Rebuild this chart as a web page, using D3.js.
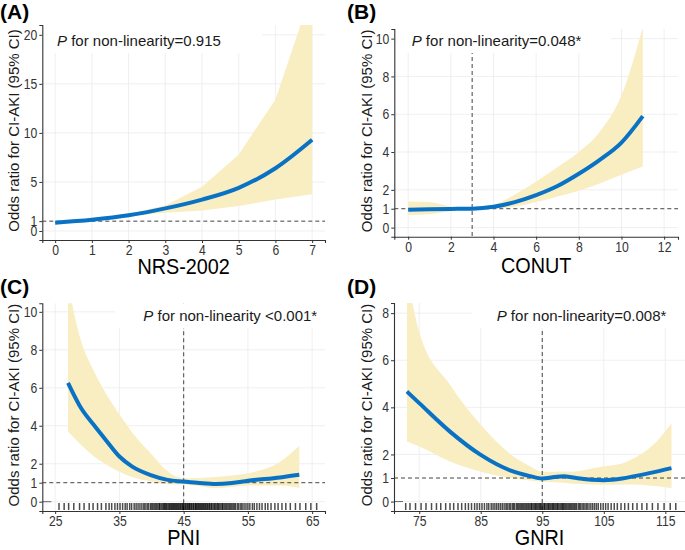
<!DOCTYPE html>
<html><head><meta charset="utf-8">
<script src="https://cdn.jsdelivr.net/npm/d3@7"></script>
<style>body{margin:0;background:#fff}svg{display:block;font-family:"Liberation Sans",Arial,sans-serif}</style>
</head><body><svg id="c" width="685" height="550"></svg>
<script>
// ---- Panel A: NRS-2002 ----
const nrsX  = [0, 1, 2, 3, 4, 5, 6, 7];
const nrsOR = [0.85, 1.15, 1.6, 2.3, 3.2, 4.4, 6.4, 9.3];
const nrsLo = [0.8, 1.1, 1.5, 1.85, 2.1, 2.55, 3.2, 3.75];
const nrsHi = [0.9, 1.2, 1.75, 2.6, 4.5, 7.8, 13.4, 24.5];
const nrsXTicks = [0, 1, 2, 3, 4, 5, 6, 7];
const nrsYTicks = [0, 1, 5, 10, 15, 20];

// ---- Panel B: CONUT ----
const conutX  = [0, 1, 2, 3, 4, 5, 6, 7, 8, 9, 10, 11];
const conutOR = [0.95, 0.97, 0.99, 1.0, 1.1, 1.35, 1.72, 2.2, 2.85, 3.6, 4.5, 5.9];
const conutLo = [0.67, 0.71, 0.88, 1.0, 1.0, 1.1, 1.35, 1.65, 1.95, 2.35, 2.8, 3.23];
const conutHi = [1.38, 1.35, 1.1, 1.0, 1.2, 1.75, 2.44, 3.2, 4.0, 5.1, 7.0, 10.6];
const conutXTicks = [0, 2, 4, 6, 8, 10, 12];
const conutYTicks = [0, 1, 2, 4, 6, 8, 10];

// ---- Panel C: PNI ----
const pniX  = [27, 29, 31, 33, 35, 37, 40, 42.5, 45, 47.5, 50, 52.5, 55, 60, 63];
const pniOR = [6.26, 4.95, 4.05, 3.2, 2.38, 1.85, 1.39, 1.15, 1.06, 0.98, 0.93, 0.98, 1.1, 1.28, 1.42];
const pniLo = [3.7, 3.0, 2.4, 1.95, 1.58, 1.3, 1.06, 0.92, 0.9, 0.82, 0.72, 0.78, 0.85, 0.85, 0.72];
const pniHi = [11.5, 8.5, 6.9, 5.65, 4.6, 3.65, 2.5, 1.6, 1.24, 1.25, 1.3, 1.38, 1.5, 2.1, 2.95];
const pniXTicks = [25, 35, 45, 55, 65];
const pniYTicks = [0, 1, 2, 4, 6, 8, 10];
const pniRug = [25.6,26.4,27.1,27.9,28.8,29.5,30.3,30.9,31.6,32.2,32.9,33.4,33.8,34.3,34.7,35.1,35.5,35.9,36.2,36.6,36.9,37.3,37.6,37.9,38.2,38.5,38.8,39.0,39.3,39.5,39.8,40.0,40.2,40.4,40.6,40.8,41.0,41.2,41.3,41.5,41.7,41.9,42.0,42.2,42.3,42.5,42.7,42.8,43.0,43.1,43.3,43.4,43.6,43.7,43.9,44.0,44.2,44.3,44.5,44.6,44.8,44.9,45.0,45.2,45.3,45.5,45.6,45.8,45.9,46.0,46.2,46.3,46.5,46.6,46.8,46.9,47.0,47.2,47.3,47.5,47.6,47.8,47.9,48.1,48.2,48.4,48.5,48.7,48.8,49.0,49.1,49.3,49.4,49.6,49.8,49.9,50.1,50.3,50.4,50.6,50.8,51.0,51.1,51.3,51.5,51.7,51.9,52.1,52.3,52.5,52.7,52.9,53.1,53.4,53.6,53.9,54.1,54.4,54.7,55.0,55.3,55.7,56.0,56.4,56.8,57.2,57.7,58.1,58.6,59.2,59.7,60.3,60.9,61.6,62.4,63.1,64.0,64.8,65.7];

// ---- Panel D: GNRI ----
const gnriX  = [73, 75, 80, 85, 90, 93, 95, 97, 98.5, 100, 103, 105, 108, 110, 113, 116];
const gnriOR = [4.67, 4.18, 2.97, 1.98, 1.3, 1.08, 0.98, 1.04, 1.07, 1.02, 0.93, 0.91, 0.98, 1.08, 1.24, 1.42];
const gnriLo = [2.55, 2.34, 1.7, 1.27, 0.99, 0.9, 0.85, 0.82, 0.8, 0.76, 0.72, 0.71, 0.72, 0.73, 0.67, 0.57];
const gnriHi = [9.6, 7.2, 4.96, 3.26, 1.98, 1.5, 1.27, 1.27, 1.28, 1.27, 1.4, 1.5, 1.62, 1.85, 2.4, 3.33];
const gnriXTicks = [75, 85, 95, 105, 115];
const gnriYTicks = [0, 1, 2, 4, 6, 8];
const gnriRug = [72.8,73.5,74.4,75.3,76.1,77.0,77.8,78.5,79.3,80.0,80.6,81.3,81.9,82.5,83.0,83.5,84.0,84.4,84.8,85.2,85.6,86.0,86.3,86.7,87.0,87.3,87.6,87.9,88.2,88.5,88.8,89.1,89.3,89.6,89.8,90.1,90.3,90.5,90.8,91.0,91.2,91.4,91.6,91.8,92.0,92.2,92.4,92.6,92.8,93.0,93.2,93.3,93.5,93.7,93.9,94.0,94.2,94.4,94.6,94.7,94.9,95.1,95.3,95.4,95.6,95.8,96.0,96.1,96.3,96.5,96.7,96.8,97.0,97.2,97.4,97.5,97.7,97.9,98.1,98.3,98.4,98.6,98.8,99.0,99.2,99.4,99.6,99.8,100.0,100.2,100.4,100.6,100.9,101.1,101.3,101.6,101.8,102.1,102.3,102.6,102.9,103.2,103.5,103.8,104.1,104.5,104.9,105.3,105.7,106.2,106.7,107.2,107.8,108.4,109.0,109.7,110.4,111.2,112.0,112.9,113.8,114.8,115.8,116.7];

const svg = d3.select("#c");
const LINE = "#0a72c4", BAND = "#f9edc2", GRID = "#ebebeb", AX = "#333";

// horizontally condense a text element (reference axis text is narrow)
function condense(sel, f) {
  sel.each(function () {
    const w = this.getComputedTextLength();
    if (w > 0) d3.select(this).attr("textLength", w * f).attr("lengthAdjust", "spacingAndGlyphs");
  });
}

const panels = [
  {id:"A", letter:"(A)", lx:0, ly:19, xs:nrsX, or:nrsOR, lo:nrsLo, hi:nrsHi, xt:nrsXTicks, yt:nrsYTicks,
   l:42.3, r:325, t:25, b:240, xd:[-0.35,7.35], yd:[-0.92,21.0], xtitle:"NRS-2002", ytx:15, xty:274,
   ref:null, bandCurve:d3.curveLinear, rug:null,
   lab:{tx:57, ty:46, rx0:42.3, rx1:262, ry0:25, ry1:53, rest:" for non-linearity=0.915"}},
  {id:"B", letter:"(B)", lx:347, ly:19, xs:conutX, or:conutOR, lo:conutLo, hi:conutHi, xt:conutXTicks, yt:conutYTicks,
   l:394.3, r:678, t:29, b:236.7, xd:[-0.65,12.65], yd:[-0.48,10.51], xtitle:"CONUT", ytx:368, xty:273,
   ref:3, bandCurve:d3.curveMonotoneX, rug:null,
   lab:{tx:411.7, ty:46, rx0:394.3, rx1:611, ry0:29, ry1:53, rest:" for non-linearity=0.048*"}},
  {id:"C", letter:"(C)", lx:0, ly:294, xs:pniX, or:pniOR, lo:pniLo, hi:pniHi, xt:pniXTicks, yt:pniYTicks,
   l:42.3, r:325, t:303.3, b:511, xd:[23,67], yd:[-0.49,10.45], xtitle:"PNI", ytx:15, xty:545,
   ref:45, bandCurve:d3.curveMonotoneX, rug:pniRug,
   lab:{tx:143.3, ty:321, rx0:115, rx1:325, ry0:303.3, ry1:328, rest:" for non-linearity <0.001*"}},
  {id:"D", letter:"(D)", lx:347, ly:294, xs:gnriX, or:gnriOR, lo:gnriLo, hi:gnriHi, xt:gnriXTicks, yt:gnriYTicks,
   l:394, r:685, t:303, b:511, xd:[70.9,118.2], yd:[-0.4,8.43], xtitle:"GNRI", ytx:368, xty:545,
   ref:95, bandCurve:d3.curveMonotoneX, rug:gnriRug,
   lab:{tx:496.7, ty:321, rx0:472, rx1:685, ry0:303, ry1:328, rest:" for non-linearity=0.008*"}}
];

panels.forEach(p => {
  const x = d3.scaleLinear().domain(p.xd).range([p.l, p.r]);
  const y = d3.scaleLinear().domain(p.yd).range([p.b, p.t]);
  const g = svg.append("g");
  const clipId = "clip" + p.id;
  svg.append("clipPath").attr("id", clipId).append("rect")
    .attr("x", p.l).attr("y", p.t).attr("width", p.r - p.l).attr("height", p.b - p.t);

  // grid
  g.append("g").selectAll("line").data(p.xt).join("line")
    .attr("x1", d => x(d)).attr("x2", d => x(d)).attr("y1", p.t).attr("y2", p.b)
    .attr("stroke", GRID).attr("stroke-width", 0.8);
  g.append("g").selectAll("line").data(p.yt.filter(v => v !== 1)).join("line")
    .attr("y1", d => y(d)).attr("y2", d => y(d)).attr("x1", p.l).attr("x2", p.r)
    .attr("stroke", GRID).attr("stroke-width", 0.8);

  const rows = p.xs.map((v, i) => ({x: v, or: p.or[i], lo: p.lo[i], hi: p.hi[i]}));
  const pg = g.append("g").attr("clip-path", `url(#${clipId})`);
  pg.append("path").datum(rows)
    .attr("d", d3.area().x(d => x(d.x)).y0(d => y(d.lo)).y1(d => y(d.hi)).curve(p.bandCurve))
    .attr("fill", BAND);

  // reference lines
  pg.append("line").attr("x1", p.l).attr("x2", p.r).attr("y1", y(1)).attr("y2", y(1))
    .attr("stroke", "#444").attr("stroke-width", 1).attr("stroke-dasharray", "4,3");
  if (p.ref !== null) {
    pg.append("line").attr("x1", x(p.ref)).attr("x2", x(p.ref)).attr("y1", p.t).attr("y2", p.b)
      .attr("stroke", "#555").attr("stroke-width", 1.1).attr("stroke-dasharray", "4,3");
  }

  // rug
  if (p.rug) {
    pg.append("line").attr("x1", p.l).attr("x2", p.l + 9).attr("y1", y(0)).attr("y2", y(0))
      .attr("stroke", "#666").attr("stroke-width", 1);
    pg.append("g").selectAll("line").data(p.rug).join("line")
      .attr("x1", d => x(d)).attr("x2", d => x(d)).attr("y1", p.b - 8).attr("y2", p.b - 1)
      .attr("stroke", "#000").attr("stroke-opacity", 0.7).attr("stroke-width", 1.5);
  }

  pg.append("path").datum(rows)
    .attr("d", d3.line().x(d => x(d.x)).y(d => y(d.or)).curve(d3.curveMonotoneX))
    .attr("fill", "none").attr("stroke", LINE).attr("stroke-width", 4).attr("stroke-linecap", "butt");

  // label with white background
  g.append("rect").attr("x", p.lab.rx0).attr("y", p.lab.ry0)
    .attr("width", p.lab.rx1 - p.lab.rx0).attr("height", p.lab.ry1 - p.lab.ry0).attr("fill", "#fff");
  const lt = g.append("text").attr("x", p.lab.tx).attr("y", p.lab.ty)
    .attr("font-size", 15).attr("fill", "#1a1a1a");
  lt.append("tspan").attr("font-style", "italic").text("P");
  lt.append("tspan").text(p.lab.rest);

  // axes
  const xa = g.append("g").attr("transform", `translate(0,${p.b})`)
    .call(d3.axisBottom(x).tickValues(p.xt).tickSize(3).tickPadding(2).tickFormat(d3.format("d")));
  const ya = g.append("g").attr("transform", `translate(${p.l},0)`)
    .call(d3.axisLeft(y).tickValues(p.yt).tickSize(3).tickPadding(2).tickFormat(d3.format("d")));
  [xa, ya].forEach(a => {
    a.select(".domain").attr("stroke", AX).attr("stroke-width", 1.1);
    a.selectAll(".tick line").attr("stroke", AX);
    a.selectAll(".tick text").attr("font-size", 14.5).attr("fill", "#333")
      .attr("font-family", '"Liberation Sans",Arial,sans-serif');
    condense(a.selectAll(".tick text"), 0.84);
  });

  // titles
  const xt = g.append("text").attr("x", (p.l + p.r) / 2).attr("y", p.xty).attr("text-anchor", "middle")
    .attr("font-size", 22).attr("fill", "#000").text(p.xtitle);
  condense(xt, 0.9);
  g.append("text").attr("transform", `translate(${p.ytx},${(p.t + p.b) / 2 - 2}) rotate(-90)`)
    .attr("text-anchor", "middle").attr("dominant-baseline", "middle")
    .attr("font-size", 15).attr("fill", "#1a1a1a").text("Odds ratio for CI-AKI (95% CI)");
  g.append("text").attr("x", p.lx).attr("y", p.ly).attr("font-size", 21).attr("font-weight", "bold")
    .attr("fill", "#000").text(p.letter);
});
</script>
</body></html>
